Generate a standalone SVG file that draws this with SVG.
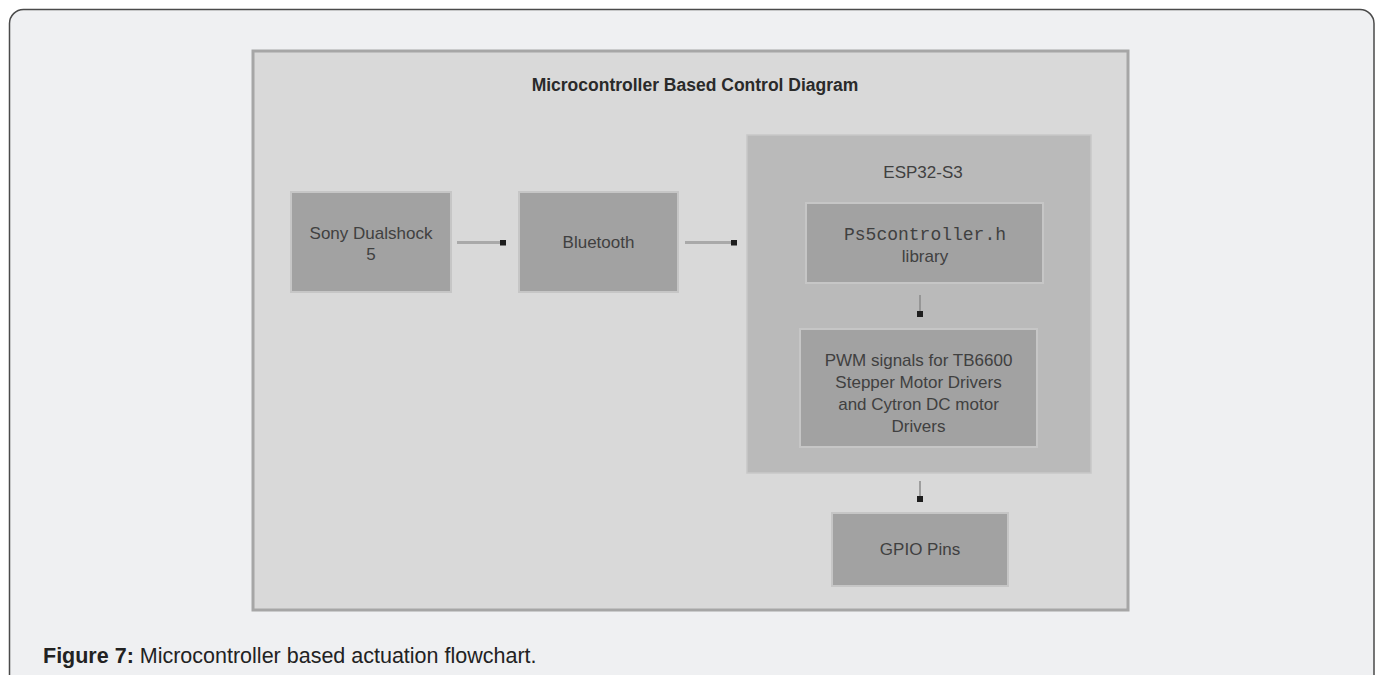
<svg xmlns="http://www.w3.org/2000/svg" width="1380" height="675" viewBox="0 0 1380 675">
  <style>
    .box{fill:#a2a2a2;stroke:#c6c6c6;stroke-width:2}
    .lbl{font-family:"Liberation Sans",Arial,sans-serif;font-size:17px;fill:#404040;text-anchor:middle}
    .mono{font-family:"Liberation Mono","Courier New",monospace;font-size:18px;fill:#404040;text-anchor:middle}
    .conn{stroke:#a9a9a9;stroke-width:3;fill:none;marker-end:url(#sq)}
    .vconn{stroke:#8a8a8a;stroke-width:1.5;fill:none;marker-end:url(#sq)}
  </style>
  <defs>
    <marker id="sq" viewBox="0 0 6 6" refX="0" refY="3" markerWidth="6" markerHeight="6" markerUnits="userSpaceOnUse" orient="auto">
      <rect x="0" y="0" width="6" height="6" fill="#1e1e1e"/>
    </marker>
  </defs>

  <rect width="1380" height="675" fill="#ffffff"/>
  <rect id="frame" x="9.5" y="9.5" width="1364.5" height="680" rx="14" fill="#eff0f2" stroke="#4a4a4a" stroke-width="1.5"/>

  <g id="panel">
    <rect x="253" y="51" width="875" height="559" fill="#d9d9d9" stroke="#a6a6a6" stroke-width="3"/>
    <text x="695" y="91" style="font-family:'Liberation Sans',Arial,sans-serif;font-size:17.5px;font-weight:bold;fill:#2a2a2a" text-anchor="middle">Microcontroller Based Control Diagram</text>
  </g>

  <g id="esp32">
    <rect x="747" y="135" width="344" height="338" fill="#bababa" stroke="#c8c8c8" stroke-width="1.5"/>
    <text class="lbl" x="923" y="178">ESP32-S3</text>
  </g>

  <g id="sony">
    <rect class="box" x="291" y="192" width="160" height="100"/>
    <text class="lbl" x="371" y="239">Sony Dualshock</text>
    <text class="lbl" x="371" y="260">5</text>
  </g>

  <g id="bluetooth">
    <rect class="box" x="519" y="192" width="159" height="100"/>
    <text class="lbl" x="598.5" y="248">Bluetooth</text>
  </g>

  <g id="library">
    <rect class="box" x="806" y="203" width="237" height="80"/>
    <text class="mono" x="925" y="240">Ps5controller.h</text>
    <text class="lbl" x="925" y="262">library</text>
  </g>

  <g id="pwm">
    <rect class="box" x="800" y="329" width="237" height="118"/>
    <text class="lbl" x="918.5" y="366">PWM signals for TB6600</text>
    <text class="lbl" x="918.5" y="388">Stepper Motor Drivers</text>
    <text class="lbl" x="918.5" y="410">and Cytron DC motor</text>
    <text class="lbl" x="918.5" y="432">Drivers</text>
  </g>

  <g id="gpio">
    <rect class="box" x="832" y="513" width="176" height="73"/>
    <text class="lbl" x="920" y="555">GPIO Pins</text>
  </g>

  <g id="connectors">
    <line class="conn" x1="457" y1="242.5" x2="500" y2="242.5"/>
    <line class="conn" x1="685" y1="242.5" x2="731" y2="242.5"/>
    <line class="vconn" x1="920" y1="295" x2="920" y2="311"/>
    <line class="vconn" x1="920" y1="481" x2="920" y2="496"/>
  </g>

  <g id="caption">
    <text x="43" y="663" style="font-family:'Liberation Sans',Arial,sans-serif;font-size:21.5px;fill:#222222"><tspan font-weight="bold">Figure 7:</tspan> Microcontroller based actuation flowchart.</text>
  </g>
</svg>
